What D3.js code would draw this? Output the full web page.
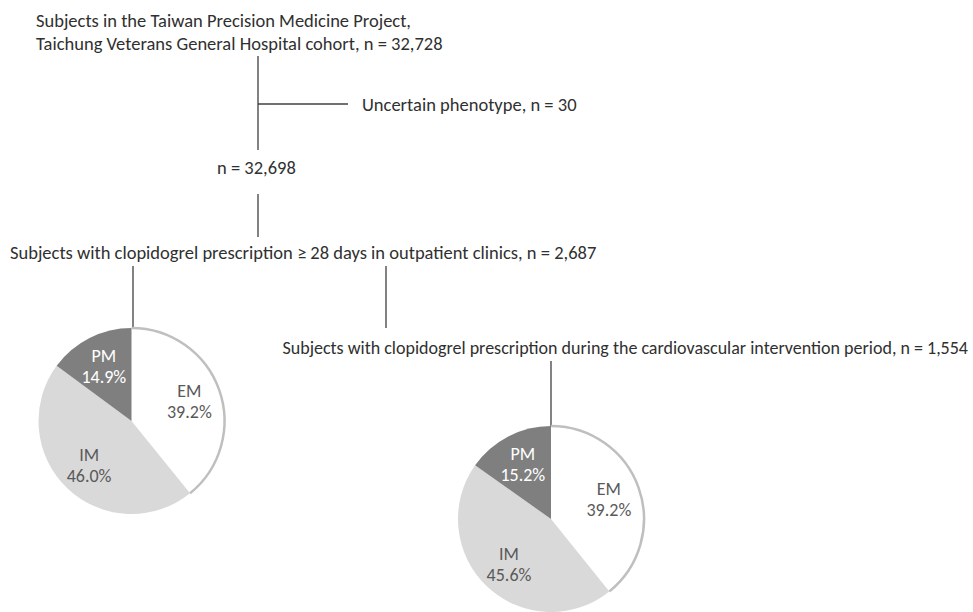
<!DOCTYPE html>
<html>
<head>
<meta charset="utf-8">
<script src="https://cdn.jsdelivr.net/npm/d3@7"></script>
<style>
  body { margin: 0; background: #fff; }
  text { font-family: Carlito, Calibri, Lato, "Open Sans", sans-serif; }
</style>
</head>
<body>
<div id="chart"></div>
<script>
// phenotype groups and their shares (%) for the two cohorts
var phenotypes = ["EM", "IM", "PM"];
var outpatientPct = [39.2, 46.0, 14.9];
var interventionPct = [39.2, 45.6, 15.2];
var sliceColors = ["#ffffff", "#d9d9d9", "#7f7f7f"];
var labelColors = ["#595959", "#595959", "#ffffff"];

// flow box texts
var startText = ["Subjects in the Taiwan Precision Medicine Project,",
                 "Taichung Veterans General Hospital cohort, n = 32,728"];
var excludedText = "Uncertain phenotype, n = 30";
var remainText = "n = 32,698";
var outpatientText = "Subjects with clopidogrel prescription \u2265 28 days in outpatient clinics, n = 2,687";
var interventionText = "Subjects with clopidogrel prescription during the cardiovascular intervention period, n = 1,554";

var width = 973, height = 612;
var fs = 18.5;

var svg = d3.select("#chart")
  .append("svg")
    .attr("width", width)
    .attr("height", height);

var ink = "#303030";

function label(x, y, t, anchor, size) {
  return svg.append("text")
    .attr("x", x)
    .attr("y", y)
    .attr("fill", ink)
    .attr("font-size", size || fs)
    .attr("text-anchor", anchor || "start")
    .attr("dominant-baseline", "central")
    .text(t);
}

function connector(x1, y1, x2, y2) {
  svg.append("line")
    .attr("x1", x1).attr("y1", y1)
    .attr("x2", x2).attr("y2", y2)
    .attr("stroke", "#404040")
    .attr("stroke-width", 1.3);
}

//texts
label(36, 20, startText[0]);
label(36, 43, startText[1]);
label(362, 104, excludedText);
label(217, 167, remainText);
label(10, 252, outpatientText);
label(968, 348, interventionText, "end", 18);

//connecting lines
connector(258, 56, 258, 150);
connector(258, 104, 348, 104);
connector(258, 194, 258, 237);
connector(133, 266, 133, 329);
connector(386, 266, 386, 328);
connector(551, 361, 551, 426);

var radius = 93;
var pie = d3.pie().sort(null).value(function(d) { return d; });
var arc = d3.arc().innerRadius(0).outerRadius(radius);
var labelArc = d3.arc().innerRadius(radius * 0.66).outerRadius(radius * 0.66);

function drawPie(values, cx, cy) {
  var g = svg.append("g")
    .attr("transform", "translate(" + cx + "," + cy + ")");
  var arcs = pie(values);

  g.selectAll("path.slice")
    .data(arcs)
    .enter()
    .append("path")
      .attr("class", "slice")
      .attr("d", arc)
      .attr("fill", function(d, i) { return sliceColors[i]; });

  // grey rim on the white slice only
  g.append("path")
    .attr("d", d3.arc().innerRadius(radius).outerRadius(radius)(arcs[0]))
    .attr("fill", "none")
    .attr("stroke", "#bfbfbf")
    .attr("stroke-width", 2.5);

  var lab = g.selectAll("text.lab")
    .data(arcs)
    .enter()
    .append("text")
      .attr("class", "lab")
      .attr("transform", function(d) { return "translate(" + labelArc.centroid(d) + ")"; })
      .attr("text-anchor", "middle")
      .attr("font-size", 18)
      .attr("fill", function(d, i) { return labelColors[i]; });
  lab.append("tspan")
    .attr("x", 0).attr("y", -4)
    .text(function(d, i) { return phenotypes[i]; });
  lab.append("tspan")
    .attr("x", 0).attr("y", 17)
    .text(function(d) { return d.data.toFixed(1) + "%"; });
}

drawPie(outpatientPct, 131.5, 421);
drawPie(interventionPct, 551, 519);
</script>
</body>
</html>
